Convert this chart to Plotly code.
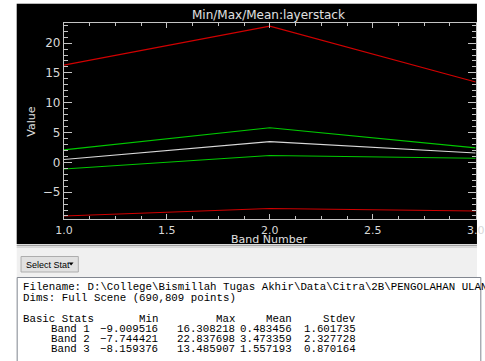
import plotly.graph_objects as go

# Per-band statistics of the layer stack
bands = [1, 2, 3]
band_labels = ["Band 1", "Band 2", "Band 3"]
band_min = [-9.009516, -7.744421, -8.159376]
band_max = [16.308218, 22.837698, 13.485907]
band_mean = [0.483456, 3.473359, 1.557193]
band_stdev = [1.601735, 2.327728, 0.870164]

stat_headers = ["Min", "Max", "Mean", "Stdev"]
title_text = "Min/Max/Mean:layerstack"
filename_text = r"Filename: D:\College\Bismillah Tugas Akhir\Data\Citra\2B\PENGOLAHAN ULAN"
dims_text = "Dims: Full Scene (690,809 points)"

W, H = 485, 361


def fx(x):
    return x / W


def fy(y):
    return 1 - y / H


upper = [m + s for m, s in zip(band_mean, band_stdev)]
lower = [m - s for m, s in zip(band_mean, band_stdev)]

RED = "#d00000"
GREEN = "#00c800"
MEANC = "#d8d8d8"
AXC = "#c4c4c4"

fig = go.Figure()
for ys, col in [(band_max, RED), (band_min, RED), (upper, GREEN), (lower, GREEN), (band_mean, MEANC)]:
    fig.add_trace(go.Scatter(x=bands, y=ys, mode="lines",
                             line=dict(color=col, width=1.1), hoverinfo="skip"))

shapes = [
    # black plot window
    dict(type="rect", xref="paper", yref="paper", x0=fx(8), x1=fx(486), y0=fy(244), y1=fy(4),
         fillcolor="black", line=dict(width=0), layer="below"),
    dict(type="line", xref="paper", yref="paper", x0=fx(8), x1=fx(486), y0=fy(3.5), y1=fy(3.5),
         line=dict(color="#b8b8b8", width=1), layer="below"),
    # stats panel background
    dict(type="rect", xref="paper", yref="paper", x0=fx(8), x1=fx(486), y0=fy(362), y1=fy(244),
         fillcolor="#f0f0f0", line=dict(width=0), layer="below"),
    dict(type="line", xref="paper", yref="paper", x0=fx(8), x1=fx(486), y0=fy(245.5), y1=fy(245.5),
         line=dict(color="#a0a0a0", width=1.5), layer="below"),
    dict(type="line", xref="paper", yref="paper", x0=fx(8), x1=fx(486), y0=fy(247.5), y1=fy(247.5),
         line=dict(color="#d8d8d8", width=1), layer="below"),
    # Select Stat button
    dict(type="rect", xref="paper", yref="paper", x0=fx(12.5), x1=fx(72), y0=fy(272), y1=fy(256.5),
         fillcolor="#e1e1e1", line=dict(color="#adadad", width=1), layer="below"),
    dict(type="path", xref="paper", yref="paper",
         path=f"M {fx(62)} {fy(262.5)} L {fx(67)} {fy(262.5)} L {fx(64.5)} {fy(265.5)} Z",
         fillcolor="black", line=dict(width=0), layer="below"),
    # text box
    dict(type="rect", xref="paper", yref="paper", x0=fx(8.5), x1=fx(490), y0=fy(365), y1=fy(277.5),
         fillcolor="white", line=dict(color="#828790", width=1), layer="below"),
]

anns = [
    dict(text=title_text, x=fx(270), y=fy(15), font=dict(size=12, color="#e0e0e0",
         family="DejaVu Sans"), xanchor="center", yanchor="middle"),
    dict(text="Band Number", x=fx(270), y=fy(239.5), font=dict(size=11, color="#e0e0e0",
         family="DejaVu Sans"), xanchor="center", yanchor="middle"),
    dict(text="Value", x=fx(23), y=fy(121.5), textangle=-90, font=dict(size=11, color="#e0e0e0",
         family="DejaVu Sans"), xanchor="center", yanchor="middle"),
    dict(text="Select Stat", x=fx(15.5), y=fy(264.5), font=dict(size=9, color="black",
         family="Liberation Sans"), xanchor="left", yanchor="middle"),
]

mono = dict(family="Liberation Mono, Courier New, monospace", size=10.75, color="black")
anns.append(dict(text=filename_text, x=fx(12), y=fy(287), font=mono, xanchor="left", yanchor="middle"))
anns.append(dict(text=dims_text, x=fx(12), y=fy(298), font=mono, xanchor="left", yanchor="middle"))
anns.append(dict(text="Basic Stats", x=fx(12), y=fy(318.5), font=mono, xanchor="left", yanchor="middle"))

col_right = [157, 237, 295.5, 362]
for hdr, xr in zip(stat_headers, col_right):
    anns.append(dict(text=hdr, x=fx(xr), y=fy(318.5), font=mono, xanchor="right", yanchor="middle"))

row_y = [329, 339, 348.5]
for i, lab in enumerate(band_labels):
    anns.append(dict(text=lab, x=fx(42), y=fy(row_y[i]), font=mono, xanchor="left", yanchor="middle"))
    vals = [band_min[i], band_max[i], band_mean[i], band_stdev[i]]
    for v, xr in zip(vals, col_right):
        anns.append(dict(text=f"{v:.6f}".replace("-", "\u2212"), x=fx(xr), y=fy(row_y[i]),
                         font=mono, xanchor="right", yanchor="middle"))

for a in anns:
    a.update(xref="paper", yref="paper", showarrow=False)

axis_common = dict(showgrid=False, zeroline=False, showline=True, linecolor=AXC, linewidth=1,
                   mirror="ticks", ticks="inside", tickcolor=AXC, tickwidth=1,
                   ticklabeloverflow="allow",
                   tickfont=dict(family="DejaVu Sans", size=12, color="#d8d8d8"))

fig.update_layout(
    width=W, height=H, margin=dict(l=0, r=0, t=0, b=0),
    paper_bgcolor="white", plot_bgcolor="black", showlegend=False,
    shapes=shapes, annotations=anns,
    xaxis=dict(axis_common, domain=[fx(57), fx(484.7)], range=[1, 3], tick0=1, dtick=0.5,
               tickformat=".1f", ticklen=5,
               tickfont=dict(family="DejaVu Sans", size=11, color="#d8d8d8"),
               minor=dict(dtick=0.125, ticks="inside", ticklen=3, tickcolor=AXC)),
    yaxis=dict(axis_common, domain=[fy(219.3), fy(22.7)], range=[-9.56, 23.42], tick0=0, dtick=5,
               ticklen=8,
               minor=dict(dtick=1, ticks="inside", ticklen=4, tickcolor=AXC)),
)

fig.write_html("out.html")
